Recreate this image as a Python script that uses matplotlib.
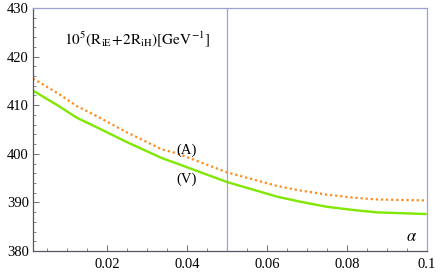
import matplotlib
matplotlib.use("Agg")
import matplotlib.pyplot as plt
from matplotlib.ticker import MultipleLocator, FixedLocator

plt.rcParams['font.family'] = ['Liberation Serif', 'DejaVu Serif']
plt.rcParams['mathtext.fontset'] = 'stix'

alpha = [0.0015, 0.0078, 0.0125, 0.0171, 0.025, 0.0338, 0.0375, 0.05, 0.0625, 0.068, 0.075, 0.082, 0.0875, 0.1]
v_vals = [413.0, 409.9, 407.4, 405.6, 402.4, 399.1, 398.0, 394.2, 391.2, 390.2, 389.1, 388.4, 387.95, 387.6]
a_vals = [415.5, 412.4, 409.8, 407.9, 404.4, 400.9, 400.1, 396.2, 393.4, 392.5, 391.6, 390.95, 390.6, 390.4]
xticks = [0.02, 0.04, 0.06, 0.08, 0.1]
xticklabels = ['0.02', '0.04', '0.06', '0.08', '0.1']
yticks = [380, 390, 400, 410, 420, 430]

fig = plt.figure(figsize=(4.41, 2.73), dpi=100)
ax = fig.add_axes([0.0748, 0.0806, 0.8928, 0.8901])

ax.plot(alpha, a_vals, color='#ff8c1a', lw=1.6, linestyle=(0, (1, 1.3)),
        dash_capstyle='butt')
ax.plot(alpha, v_vals, color='#80e800', lw=1.7, solid_capstyle='butt',
        solid_joinstyle='round')
ax.axvline(0.05, color='#a0a0d8', lw=0.9)

ax.set_xlim(0.0015, 0.1)
ax.set_ylim(380, 430)

ax.xaxis.set_major_locator(FixedLocator(xticks))
ax.set_xticklabels(xticklabels)
ax.xaxis.set_minor_locator(MultipleLocator(0.005))
ax.yaxis.set_major_locator(FixedLocator(yticks))
ax.yaxis.set_minor_locator(MultipleLocator(2))

ax.tick_params(which='both', direction='in', colors='#555566', labelcolor='black',
               labelsize=10.5, top=False, right=False)
ax.tick_params(which='major', length=4, width=0.6)
ax.tick_params(which='minor', length=2, width=0.5)
ax.tick_params(axis='x', pad=5)
ax.tick_params(axis='y', pad=3)

for s in ['left', 'bottom']:
    ax.spines[s].set_color('#555566')
    ax.spines[s].set_linewidth(0.9)
for s in ['top', 'right']:
    ax.spines[s].set_color('#a0a0d8')
    ax.spines[s].set_linewidth(0.9)

ax.text(0.0093, 423.6, r'$10^5(\mathrm{R}_{\mathrm{iE}}\!+\!2\mathrm{R}_{\mathrm{iH}})[\mathrm{GeV}^{-1}]$',
        fontsize=11, ha='left', va='center')
ax.text(0.04, 400.75, '(A)', fontsize=10.5, ha='center', va='center')
ax.text(0.04, 394.75, '(V)', fontsize=10.5, ha='center', va='center')
ax.text(0.0962, 382.8, r'$\alpha$', fontsize=12, ha='center', va='center')

fig.savefig('out.png', dpi=100)
